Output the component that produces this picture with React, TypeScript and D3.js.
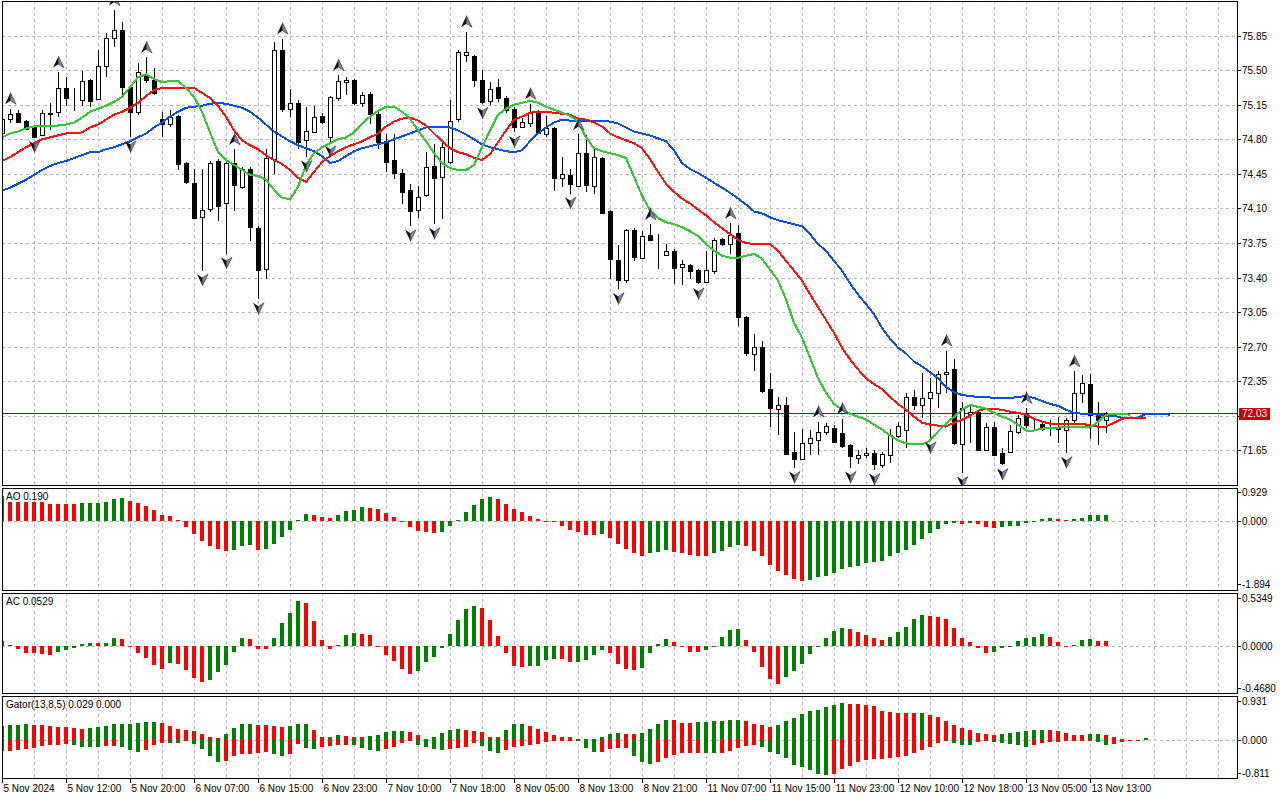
import * as d3 from 'd3'
import { useEffect, useRef } from 'react'

// H1 bars, one time label every 8 bars
const timeLabels = [
  '5 Nov 2024', '5 Nov 12:00', '5 Nov 20:00', '6 Nov 07:00', '6 Nov 15:00', '6 Nov 23:00',
  '7 Nov 10:00', '7 Nov 18:00', '8 Nov 05:00', '8 Nov 13:00', '8 Nov 21:00', '11 Nov 07:00',
  '11 Nov 15:00', '11 Nov 23:00', '12 Nov 10:00', '12 Nov 18:00', '13 Nov 05:00', '13 Nov 13:00',
]

const priceTicks = [75.85, 75.5, 75.15, 74.8, 74.45, 74.1, 73.75, 73.4, 73.05, 72.7, 72.35, 72.0, 71.65]

const opens = [
  74.87, 75.01, 75.07, 74.99, 74.93, 74.85, 75.06, 75.08, 75.32, 75.21,
  75.20, 75.40, 75.21, 75.55, 75.83, 75.91, 75.33, 75.07, 75.45, 75.40,
  75.01, 74.96, 75.04, 74.56, 74.36, 74.01, 74.09, 74.58, 74.15, 74.56,
  74.32, 74.50, 73.90, 73.49, 74.61, 75.71, 75.11, 75.17, 74.79, 74.88,
  75.04, 74.82, 75.22, 75.38, 75.40, 75.17, 75.26, 75.06, 74.78, 74.59,
  74.46, 74.29, 74.09, 74.24, 74.53, 74.42, 74.57, 75.00, 75.65, 75.64,
  75.40, 75.19, 75.33, 75.22, 75.11, 74.93, 74.97, 75.07, 74.86, 74.91,
  74.41, 74.44, 74.33, 74.66, 74.33, 74.61, 74.07, 73.58, 73.37, 73.88,
  73.60, 73.83, 73.64, 73.63, 73.67, 73.51, 73.53, 73.48, 73.36, 73.47,
  73.79, 73.74, 73.85, 73.00, 72.63, 72.70, 72.27, 72.07, 72.11, 71.63,
  71.56, 71.72, 71.76, 71.84, 71.88, 71.83, 71.70, 71.57, 71.60, 71.62,
  71.50, 71.60, 71.80, 71.86, 72.19, 72.11, 72.18, 72.23, 72.42, 72.47,
  71.72, 72.02, 72.04, 71.66, 71.89, 71.62, 71.64, 71.84, 72.03, 71.91,
  71.92, 71.87, 71.88, 71.86, 71.96, 72.23, 72.32, 72.01, 71.96,
]
const highs = [
  75.03, 75.11, 75.10, 75.00, 74.94, 75.10, 75.17, 75.48, 75.43, 75.32,
  75.49, 75.41, 75.71, 75.88, 76.11, 75.99, 75.34, 75.57, 75.63, 75.52,
  75.08, 75.10, 75.05, 74.57, 74.50, 74.50, 74.58, 74.60, 74.57, 74.70,
  74.52, 74.52, 73.92, 74.70, 75.79, 75.82, 75.31, 75.20, 75.13, 75.14,
  75.07, 75.24, 75.45, 75.43, 75.41, 75.28, 75.28, 75.08, 74.85, 74.85,
  74.50, 74.35, 74.33, 74.67, 74.75, 74.77, 75.20, 75.71, 75.89, 75.65,
  75.50, 75.38, 75.41, 75.24, 75.13, 75.02, 75.16, 75.10, 75.04, 74.93,
  74.62, 74.50, 74.85, 74.84, 74.70, 74.62, 74.08, 73.73, 73.89, 73.90,
  73.87, 73.94, 73.84, 73.74, 73.69, 73.58, 73.54, 73.49, 73.67, 73.80,
  73.80, 73.95, 73.93, 73.01, 72.83, 72.76, 72.43, 72.19, 72.19, 71.84,
  71.87, 71.86, 71.94, 71.93, 71.91, 71.97, 71.71, 71.65, 71.67, 71.65,
  71.63, 71.87, 71.94, 72.23, 72.26, 72.43, 72.38, 72.45, 72.66, 72.57,
  72.14, 72.11, 72.06, 71.93, 71.94, 71.67, 71.91, 72.01, 72.08, 71.96,
  71.94, 71.96, 71.99, 71.98, 72.45, 72.41, 72.42, 72.14, 72.04,
]
const lows = [
  74.85, 74.97, 74.97, 74.89, 74.82, 74.84, 74.89, 75.03, 75.14, 75.09,
  75.14, 75.13, 75.20, 75.43, 75.74, 75.25, 74.82, 75.05, 75.37, 75.25,
  74.82, 74.93, 74.49, 74.35, 73.99, 73.47, 74.06, 73.97, 73.64, 74.07,
  74.30, 73.77, 73.18, 73.39, 74.45, 75.08, 75.03, 74.70, 74.62, 74.86,
  74.96, 74.77, 75.19, 75.25, 75.15, 75.13, 74.96, 74.70, 74.47, 74.40,
  74.15, 73.92, 74.00, 74.22, 73.94, 73.99, 74.55, 74.98, 75.58, 75.33,
  75.16, 75.15, 75.18, 75.07, 74.87, 74.91, 74.93, 74.85, 74.82, 74.28,
  74.32, 74.25, 74.32, 74.27, 74.25, 74.04, 73.39, 73.28, 73.34, 73.57,
  73.59, 73.77, 73.49, 73.62, 73.33, 73.32, 73.39, 73.33, 73.34, 73.44,
  73.72, 73.64, 72.91, 72.61, 72.45, 72.23, 71.89, 71.80, 71.60, 71.47,
  71.55, 71.60, 71.60, 71.80, 71.72, 71.67, 71.47, 71.51, 71.57, 71.45,
  71.47, 71.52, 71.77, 71.67, 72.06, 71.98, 71.77, 72.08, 72.23, 71.70,
  71.42, 71.72, 71.64, 71.65, 71.60, 71.50, 71.63, 71.82, 71.88, 71.87,
  71.85, 71.79, 71.72, 71.62, 71.93, 72.13, 71.76, 71.70, 71.83,
]
const closes = [
  75.01, 75.06, 74.98, 74.91, 74.83, 75.07, 75.07, 75.32, 75.22, 75.21,
  75.39, 75.19, 75.54, 75.83, 75.91, 75.33, 75.08, 75.48, 75.40, 75.27,
  74.96, 75.03, 74.55, 74.37, 74.01, 74.08, 74.56, 74.12, 74.56, 74.34,
  74.50, 73.91, 73.47, 74.61, 75.71, 75.11, 75.17, 74.77, 74.88, 75.03,
  74.98, 75.23, 75.39, 75.40, 75.17, 75.25, 75.06, 74.78, 74.57, 74.46,
  74.27, 74.08, 74.22, 74.52, 74.41, 74.72, 74.99, 75.68, 75.68, 75.40,
  75.18, 75.31, 75.22, 75.10, 74.93, 74.98, 75.07, 74.87, 74.92, 74.40,
  74.45, 74.35, 74.66, 74.34, 74.62, 74.05, 73.58, 73.38, 73.88, 73.61,
  73.82, 73.78, 73.64, 73.67, 73.50, 73.54, 73.47, 73.36, 73.48, 73.78,
  73.74, 73.83, 73.00, 72.64, 72.70, 72.25, 72.08, 72.11, 71.61, 71.56,
  71.72, 71.77, 71.84, 71.90, 71.74, 71.70, 71.59, 71.60, 71.62, 71.51,
  71.61, 71.80, 71.90, 72.19, 72.11, 72.18, 72.24, 72.42, 72.44, 71.72,
  72.08, 72.04, 71.66, 71.89, 71.61, 71.52, 71.85, 71.98, 71.91, 71.91,
  71.87, 71.87, 71.87, 71.96, 72.23, 72.33, 72.01, 71.96, 72.03,
]

// Alligator lines as drawn on the chart (already shifted forward 8 / 5 / 3 bars)
const jaw = [
  74.28, 74.31, 74.35, 74.39, 74.44, 74.49, 74.53, 74.56, 74.58, 74.61,
  74.64, 74.67, 74.67, 74.70, 74.72, 74.75, 74.78, 74.82, 74.86, 74.92,
  74.97, 75.03, 75.08, 75.12, 75.13, 75.14, 75.16, 75.17, 75.16, 75.14,
  75.12, 75.08, 75.02, 74.95, 74.88, 74.83, 74.78, 74.74, 74.71, 74.68,
  74.63, 74.56, 74.58, 74.63, 74.68, 74.71, 74.73, 74.75, 74.77, 74.80,
  74.83, 74.86, 74.89, 74.92, 74.93, 74.93, 74.92, 74.89, 74.85, 74.80,
  74.75, 74.72, 74.70, 74.68, 74.67, 74.69, 74.78, 74.86, 74.92, 74.97,
  75.00, 74.99, 74.99, 74.99, 74.99, 74.99, 74.98, 74.96, 74.92, 74.88,
  74.86, 74.84, 74.81, 74.78, 74.69, 74.56, 74.50, 74.46, 74.41, 74.36,
  74.31, 74.26, 74.20, 74.14, 74.07, 74.05, 74.01, 73.98, 73.96, 73.94,
  73.92, 73.84, 73.74, 73.67, 73.57, 73.47, 73.34, 73.23, 73.13, 73.03,
  72.89, 72.78, 72.69, 72.63, 72.55, 72.50, 72.44, 72.38, 72.29, 72.24,
  72.21, 72.20, 72.19, 72.19, 72.18, 72.18, 72.18, 72.19, 72.20, 72.18,
  72.15, 72.12, 72.10, 72.06, 72.03, 72.02, 72.02, 72.01, 72.00, 72.00,
  71.98, 71.98, 71.98, 72.02, 72.02, 72.02, 72.01,
]
const teeth = [
  74.58, 74.62, 74.67, 74.72, 74.76, 74.80, 74.82, 74.84, 74.86, 74.86,
  74.87, 74.92, 74.95, 75.00, 75.05, 75.08, 75.12, 75.17, 75.24, 75.30,
  75.32, 75.32, 75.32, 75.32, 75.32, 75.27, 75.22, 75.14, 75.03, 74.89,
  74.79, 74.74, 74.70, 74.64, 74.59, 74.55, 74.49, 74.41, 74.37, 74.47,
  74.57, 74.63, 74.68, 74.72, 74.75, 74.78, 74.82, 74.86, 74.93, 74.98,
  75.01, 75.02, 74.99, 74.94, 74.86, 74.78, 74.71, 74.67, 74.65, 74.61,
  74.59, 74.65, 74.77, 74.89, 75.00, 75.03, 75.07, 75.08, 75.08, 75.07,
  75.06, 75.05, 75.01, 75.00, 74.97, 74.93, 74.86, 74.82, 74.79, 74.76,
  74.71, 74.60, 74.47, 74.35, 74.27, 74.20, 74.15, 74.09, 74.03, 73.96,
  73.90, 73.84, 73.78, 73.75, 73.74, 73.74, 73.74, 73.67, 73.57, 73.47,
  73.37, 73.23, 73.10, 72.97, 72.84, 72.69, 72.57, 72.47, 72.38, 72.32,
  72.27, 72.19, 72.12, 72.06, 71.99, 71.93, 71.91, 71.90, 71.89, 71.93,
  71.96, 72.00, 72.05, 72.07, 72.07, 72.06, 72.04, 72.03, 72.01, 71.97,
  71.94, 71.92, 71.92, 71.92, 71.92, 71.92, 71.90, 71.89, 71.89, 71.93,
  71.97, 71.98, 71.98, 71.98,
]
const lips = [
  74.82, 74.86, 74.88, 74.91, 74.93, 74.94, 74.94, 74.94, 74.95, 74.97,
  75.02, 75.08, 75.11, 75.14, 75.18, 75.23, 75.33, 75.43, 75.46, 75.41,
  75.38, 75.39, 75.39, 75.32, 75.23, 75.08, 74.87, 74.67, 74.59, 74.54,
  74.49, 74.44, 74.43, 74.39, 74.29, 74.21, 74.19, 74.32, 74.54, 74.66,
  74.72, 74.76, 74.80, 74.82, 74.87, 74.96, 75.03, 75.09, 75.13, 75.13,
  75.08, 75.01, 74.89, 74.78, 74.66, 74.56, 74.51, 74.49, 74.49, 74.54,
  74.72, 74.89, 75.05, 75.11, 75.15, 75.17, 75.19, 75.17, 75.13, 75.10,
  75.07, 75.04, 74.98, 74.82, 74.71, 74.68, 74.66, 74.64, 74.61, 74.42,
  74.23, 74.08, 74.00, 73.96, 73.94, 73.91, 73.87, 73.82, 73.74, 73.67,
  73.62, 73.60, 73.60, 73.62, 73.64, 73.59, 73.48, 73.37, 73.18, 72.94,
  72.79, 72.59, 72.38, 72.23, 72.12, 72.06, 72.02, 71.99, 71.96, 71.91,
  71.86, 71.80, 71.75, 71.72, 71.71, 71.71, 71.75, 71.84, 71.92, 71.99,
  72.06, 72.11, 72.09, 72.07, 72.03, 71.99, 71.96, 71.91, 71.85, 71.85,
  71.87, 71.88, 71.88, 71.89, 71.89, 71.89, 71.88, 71.94, 72.01, 72.02,
  72.02, 72.01,
]

const ao = [
  0.76, 0.57, 0.57, 0.57, 0.57, 0.57, 0.51, 0.51, 0.51, 0.50,
  0.53, 0.54, 0.55, 0.58, 0.66, 0.69, 0.60, 0.54, 0.46, 0.33,
  0.19, 0.16, 0.04, -0.18, -0.39, -0.60, -0.74, -0.84, -0.90, -0.86,
  -0.74, -0.73, -0.87, -0.84, -0.68, -0.47, -0.26, 0.03, 0.22, 0.19,
  0.12, 0.09, 0.18, 0.30, 0.34, 0.41, 0.39, 0.37, 0.25, 0.12,
  -0.01, -0.19, -0.31, -0.32, -0.37, -0.34, -0.16, 0.02, 0.27, 0.48,
  0.67, 0.72, 0.66, 0.51, 0.37, 0.27, 0.16, 0.06, 0.01, -0.04,
  -0.15, -0.27, -0.34, -0.42, -0.43, -0.39, -0.52, -0.68, -0.85, -0.97,
  -1.04, -0.97, -0.94, -0.86, -0.94, -0.97, -1.01, -1.04, -1.05, -0.97,
  -0.89, -0.79, -0.71, -0.74, -0.91, -1.04, -1.31, -1.50, -1.61, -1.73,
  -1.79, -1.78, -1.69, -1.66, -1.57, -1.43, -1.39, -1.34, -1.27, -1.24,
  -1.21, -1.06, -0.97, -0.86, -0.71, -0.53, -0.37, -0.24, -0.10, -0.07,
  -0.10, -0.07, -0.10, -0.19, -0.20, -0.19, -0.16, -0.15, -0.07, -0.01,
  0.06, 0.09, 0.06, 0.03, 0.06, 0.09, 0.18, 0.185, 0.19,
]
const ac = [
  0.056, 0.015, -0.03, -0.073, -0.075, -0.085, -0.097, -0.063, -0.041, -0.019,
  0.022, 0.033, 0.032, 0.035, 0.093, 0.078, -0.006, -0.074, -0.13, -0.21,
  -0.256, -0.186, -0.2, -0.265, -0.352, -0.405, -0.378, -0.295, -0.212, -0.062,
  0.089, 0.076, -0.03, -0.035, 0.09, 0.255, 0.37, 0.5, 0.48, 0.28,
  0.067, -0.03, 0.01, 0.12, 0.15, 0.135, 0.12, -0.005, -0.105, -0.17,
  -0.26, -0.31, -0.28, -0.18, -0.12, -0.02, 0.13, 0.29, 0.41, 0.45,
  0.42, 0.29, 0.11, -0.08, -0.22, -0.235, -0.225, -0.22, -0.16, -0.145,
  -0.15, -0.18, -0.175, -0.16, -0.095, -0.04, -0.08, -0.2, -0.255, -0.27,
  -0.24, -0.08, 0.02, 0.08, 0.045, -0.005, -0.065, -0.067, -0.05, 0.005,
  0.105, 0.18, 0.195, 0.067, -0.07, -0.23, -0.37, -0.42, -0.34, -0.28,
  -0.2, -0.09, 0.003, 0.09, 0.17, 0.205, 0.19, 0.16, 0.12, 0.09,
  0.067, 0.1, 0.16, 0.216, 0.3, 0.34, 0.333, 0.32, 0.305, 0.205,
  0.089, 0.044, -0.017, -0.078, -0.067, -0.022, 0.005, 0.061, 0.089, 0.1,
  0.133, 0.1, 0.05, -0.005, 0.011, 0.067, 0.078, 0.061, 0.0529,
]

const upFractals = [1, 7, 14, 18, 29, 35, 42, 58, 66, 72, 81, 91, 102, 105, 118, 128, 134]
const downFractals = [4, 16, 25, 28, 32, 38, 41, 51, 54, 60, 64, 71, 77, 87, 99, 106, 109, 116, 120, 125, 133]
const lastPrice = 72.03

const W = 1280
const H = 800
const plotLeft = 2
const plotRight = 1237
const font = '"Liberation Sans", Arial, sans-serif'
const GREEN = '#008000'
const RED = '#ff0000'

// MT style colouring: up -> green, down -> red, unchanged keeps last colour
function barColors(vals: number[], useAbs = false) {
  const out: string[] = []
  vals.forEach((v, i) => {
    if (i === 0) { out.push(RED); return }
    const a = useAbs ? Math.abs(v) : v
    const b = useAbs ? Math.abs(vals[i - 1]) : vals[i - 1]
    if (a > b + 1e-9) out.push(GREEN)
    else if (a < b - 1e-9) out.push(RED)
    else out.push(out[i - 1])
  })
  return out
}

function drawChart(el: SVGSVGElement) {
  const svg = d3.select(el)
  svg.selectAll('*').remove()

  const x = d3.scaleLinear().domain([0, 154]).range([2, 1234])
  const yMain = d3.scaleLinear().domain([75.85, 71.65]).range([35.7, 450.3])
  const yAO = d3.scaleLinear().domain([0.929, -1.894]).range([490.1, 584.1])
  const yAC = d3.scaleLinear().domain([0.5349, -0.468]).range([598, 688])
  const yGator = d3.scaleLinear().domain([0.931, -0.811]).range([696, 778])

  const panels = [
    { id: 'main', top: 1, bottom: 485 },
    { id: 'ao', top: 488, bottom: 590 },
    { id: 'ac', top: 593, bottom: 693 },
    { id: 'gator', top: 696, bottom: 778 },
  ]

  svg.append('rect').attr('width', W).attr('height', H).attr('fill', '#ffffff')

  const defs = svg.append('defs')
  panels.forEach(p => {
    defs.append('clipPath').attr('id', 'clip-' + p.id)
      .append('rect')
      .attr('x', plotLeft + 1).attr('y', p.top + 1)
      .attr('width', plotRight - plotLeft - 1).attr('height', p.bottom - p.top - 1)
  })

  // vertical grid, every 4 bars
  const vGrid = d3.range(4, 154, 4).map(i => x(i))
  panels.forEach(p => {
    svg.append('g').selectAll('line').data(vGrid).join('line')
      .attr('x1', d => d + 0.5).attr('x2', d => d + 0.5)
      .attr('y1', p.top).attr('y2', p.bottom)
      .attr('stroke', '#c8b0c8').attr('stroke-dasharray', '3,3')
  })

  // horizontal grid in price panel
  svg.append('g').selectAll('line').data(priceTicks).join('line')
    .attr('x1', plotLeft).attr('x2', plotRight)
    .attr('y1', d => Math.round(yMain(d)) + 0.5).attr('y2', d => Math.round(yMain(d)) + 0.5)
    .attr('stroke', '#b8bcb4').attr('stroke-dasharray', '3,3')

  // zero lines in indicator panels
  const zeroYs = [yAO(0), yAC(0), yGator(0)]
  svg.append('g').selectAll('line').data(zeroYs).join('line')
    .attr('x1', plotLeft).attr('x2', plotRight)
    .attr('y1', d => Math.round(d) + 0.5).attr('y2', d => Math.round(d) + 0.5)
    .attr('stroke', '#b8bcb4').attr('stroke-dasharray', '3,3')

  // ---- price panel ----
  const gMain = svg.append('g').attr('clip-path', 'url(#clip-main)')
  const idx = d3.range(opens.length)

  gMain.append('line')
    .attr('x1', plotLeft).attr('x2', plotRight)
    .attr('y1', Math.round(yMain(lastPrice)) + 0.5).attr('y2', Math.round(yMain(lastPrice)) + 0.5)
    .attr('stroke', '#7a1a1a').attr('stroke-width', 1)

  gMain.append('g').selectAll('line').data(idx).join('line')
    .attr('x1', i => x(i) + 0.5).attr('x2', i => x(i) + 0.5)
    .attr('y1', i => yMain(highs[i])).attr('y2', i => yMain(lows[i]))
    .attr('stroke', '#000').attr('stroke-width', 1)

  gMain.append('g').selectAll('rect').data(idx).join('rect')
    .attr('x', i => x(i) - 1.5).attr('width', 4)
    .attr('y', i => Math.round(yMain(Math.max(opens[i], closes[i]))) + 0.5)
    .attr('height', i => Math.max(0, Math.round(Math.abs(yMain(opens[i]) - yMain(closes[i])))))
    .attr('fill', i => (closes[i] >= opens[i] ? '#ffffff' : '#000000'))
    .attr('stroke', '#000').attr('stroke-width', 1)

  const line = d3.line<number>().x((_, i) => x(i)).y(d => yMain(d))
  const alligator: [number[], string][] = [[jaw, '#0a50dc'], [teeth, '#ff1010'], [lips, '#32c832']]
  alligator.forEach(([vals, color]) => {
    gMain.append('path').datum(vals).attr('d', line)
      .attr('fill', 'none').attr('stroke', color).attr('stroke-width', 2)
      .attr('stroke-linejoin', 'round')
  })

  // fractal arrows (two-tone arrowheads)
  const upLeft = 'M0,-6 L0,2 L-5.5,5.5 Z'
  const upRight = 'M0,-6 L5.5,5.5 L0,2 Z'
  const upG = gMain.append('g').selectAll('g').data(upFractals).join('g')
    .attr('transform', i => `translate(${x(i) + 0.5},${yMain(highs[i]) - 10})`)
    .attr('shape-rendering', 'geometricPrecision')
  upG.append('path').attr('d', upLeft).attr('fill', '#111111')
  upG.append('path').attr('d', upRight).attr('fill', '#6f86b8').attr('stroke', '#2a2a2a').attr('stroke-width', 0.6)

  const downLeft = 'M0,6 L0,-2 L-5.5,-5.5 Z'
  const downRight = 'M0,6 L5.5,-5.5 L0,-2 Z'
  const downG = gMain.append('g').selectAll('g').data(downFractals).join('g')
    .attr('transform', i => `translate(${x(i) + 0.5},${yMain(lows[i]) + 9})`)
    .attr('shape-rendering', 'geometricPrecision')
  downG.append('path').attr('d', downLeft).attr('fill', '#111111')
  downG.append('path').attr('d', downRight).attr('fill', '#6f86b8').attr('stroke', '#2a2a2a').attr('stroke-width', 0.6)

  // ---- AO ----
  const aoCol = barColors(ao)
  svg.append('g').attr('clip-path', 'url(#clip-ao)')
    .selectAll('rect').data(ao).join('rect')
    .attr('x', (_, i) => x(i) - 2).attr('width', 4)
    .attr('y', d => Math.min(yAO(d), yAO(0)))
    .attr('height', d => Math.max(1, Math.abs(yAO(d) - yAO(0))))
    .attr('fill', (_, i) => aoCol[i])

  // ---- AC ----
  const acCol = barColors(ac)
  svg.append('g').attr('clip-path', 'url(#clip-ac)')
    .selectAll('rect').data(ac).join('rect')
    .attr('x', (_, i) => x(i) - 2).attr('width', 4)
    .attr('y', d => Math.min(yAC(d), yAC(0)))
    .attr('height', d => Math.max(1, Math.abs(yAC(d) - yAC(0))))
    .attr('fill', (_, i) => acCol[i])

  // ---- Gator: distances between the drawn alligator lines ----
  const gatorUp = teeth.map((t, i) => Math.abs(jaw[i] - t))
  const gatorDown = lips.map((l, i) => -Math.abs(teeth[i] - l))
  const upCol = barColors(gatorUp)
  const downCol = barColors(gatorDown, true)
  const gGator = svg.append('g').attr('clip-path', 'url(#clip-gator)')
  gGator.append('g').selectAll('rect').data(gatorUp).join('rect')
    .attr('x', (_, i) => x(i) - 2).attr('width', 4)
    .attr('y', d => yGator(d)).attr('height', d => Math.max(1, yGator(0) - yGator(d)))
    .attr('fill', (_, i) => upCol[i])
  gGator.append('g').selectAll('rect').data(gatorDown).join('rect')
    .attr('x', (_, i) => x(i) - 2).attr('width', 4)
    .attr('y', yGator(0)).attr('height', d => Math.max(1, yGator(d) - yGator(0)))
    .attr('fill', (_, i) => downCol[i])

  // panel frames
  panels.forEach(p => {
    svg.append('rect')
      .attr('x', plotLeft + 0.5).attr('y', p.top + 0.5)
      .attr('width', plotRight - plotLeft).attr('height', p.bottom - p.top)
      .attr('fill', 'none').attr('stroke', '#000').attr('stroke-width', 1)
  })

  // right axis labels
  const axisText = (g: any) => g
    .attr('font-family', font).attr('font-size', 10).attr('fill', '#000')
  const priceAxis = svg.append('g')
  priceTicks.forEach(t => {
    const yy = Math.round(yMain(t)) + 0.5
    priceAxis.append('line').attr('x1', plotRight).attr('x2', plotRight + 4)
      .attr('y1', yy).attr('y2', yy).attr('stroke', '#000')
    // the 72.00 label sits under the last-price marker, as in the terminal
    if (Math.abs(t - 72.0) > 1e-9) {
      priceAxis.append('text').attr('x', plotRight + 5).attr('y', yy + 3.5).text(t.toFixed(2)).call(axisText)
    }
  })

  const subLabels: [number, string][] = [
    [492, '0.929'], [yAO(0), '0.000'], [584, '-1.894'],
    [598, '0.5349'], [yAC(0), '0.0000'], [688, '-0.4680'],
    [701, '0.931'], [yGator(0), '0.000'], [773, '-0.811'],
  ]
  subLabels.forEach(([yy, txt]) => {
    const yr = Math.round(yy) + 0.5
    svg.append('line').attr('x1', plotRight).attr('x2', plotRight + 4)
      .attr('y1', yr).attr('y2', yr).attr('stroke', '#000')
    svg.append('text').attr('x', plotRight + 5).attr('y', yr + 3.5).text(txt).call(axisText)
  })

  // last price marker
  const yLast = Math.round(yMain(lastPrice)) + 0.5
  svg.append('rect').attr('x', plotRight + 2).attr('y', yLast - 6).attr('width', 31).attr('height', 12)
    .attr('fill', '#c80000')
  svg.append('text').attr('x', plotRight + 5).attr('y', yLast + 3.5).text(lastPrice.toFixed(2))
    .call(axisText).attr('fill', '#ffffff')

  // indicator captions
  const captions: [number, string][] = [[500, 'AO 0.190'], [605, 'AC 0.0529'], [708, 'Gator(13,8,5) 0.029 0.000']]
  captions.forEach(([yy, txt]) => {
    svg.append('text').attr('x', 6).attr('y', yy).text(txt).call(axisText)
  })

  // time axis
  const timeAxis = svg.append('g')
  timeLabels.forEach((lbl, m) => {
    const xx = x(m * 8) + 0.5
    timeAxis.append('line').attr('x1', xx).attr('x2', xx).attr('y1', 779).attr('y2', 783).attr('stroke', '#000')
    timeAxis.append('text').attr('x', xx + 1).attr('y', 792).text(lbl).call(axisText)
  })
}

export default function App() {
  const svgRef = useRef<SVGSVGElement>(null)

  useEffect(() => {
    if (svgRef.current) drawChart(svgRef.current)
  }, [])

  return (
    <div style={{ position: 'absolute', left: 0, top: 0 }}>
      <svg ref={svgRef} width={W} height={H} style={{ display: 'block' }} shapeRendering="crispEdges" />
    </div>
  )
}
